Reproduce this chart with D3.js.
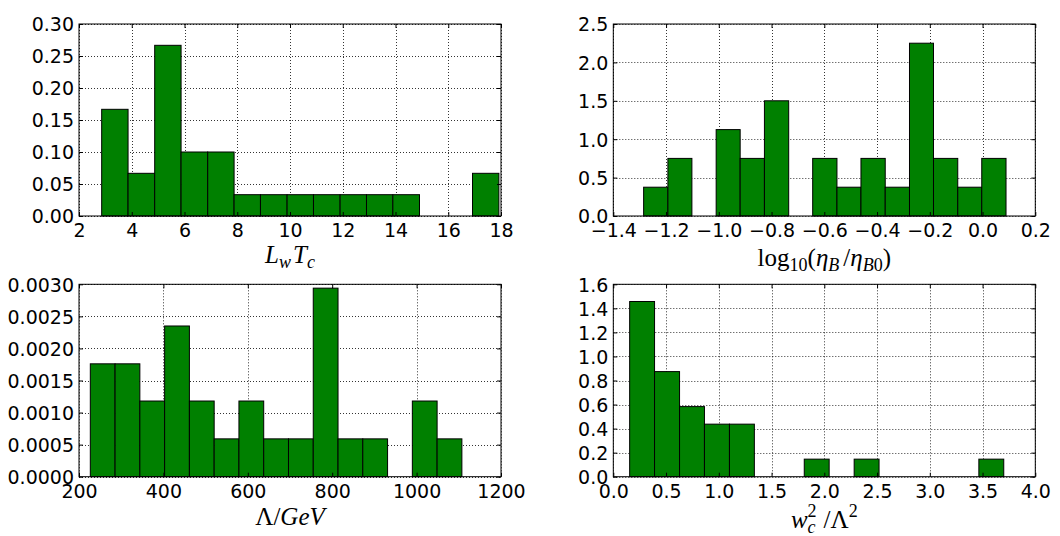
<!DOCTYPE html>
<html>
<head>
<meta charset="utf-8">
<script src="https://cdn.jsdelivr.net/npm/d3@7"></script>
<style>
	body { margin: 0; background: #fff; }
	svg { display: block; }
	.tick text { font-family: "DejaVu Sans", sans-serif; font-size: 19px; fill: #000; }
	.lbl { font-family: "Liberation Serif", "DejaVu Serif", serif; font-size: 25px; fill: #000; }
</style>
</head>
<body>
<svg id="fig" width="1060" height="536"></svg>
<script>
// ---- data ----
var lwtcEdges = [2.86, 3.86, 4.87, 5.87, 6.88, 7.88, 8.88, 9.89, 10.89, 11.90, 12.90, 13.90, 14.91, 15.91, 16.92, 17.92];
var lwtcVals  = [0.1667, 0.0667, 0.2667, 0.1, 0.1, 0.0333, 0.0333, 0.0333, 0.0333, 0.0333, 0.0333, 0.0333, 0, 0, 0.0667];

var etaEdges = [-1.285, -1.193, -1.102, -1.010, -0.919, -0.827, -0.735, -0.644, -0.552, -0.461, -0.369, -0.277, -0.186, -0.094, -0.003, 0.089];
var etaVals  = [0.375, 0.75, 0, 1.125, 0.75, 1.5, 0, 0.75, 0.375, 0.75, 0.375, 2.25, 0.75, 0.375, 0.75];

var lamEdges = [226.8, 285.5, 344.2, 402.9, 461.6, 520.3, 579.0, 637.7, 696.4, 755.1, 813.8, 872.5, 931.2, 989.9, 1048.6, 1107.3];
var lamVals  = [0.00176, 0.00176, 0.00118, 0.00235, 0.00118, 0.00059, 0.00118, 0.00059, 0.00059, 0.00294, 0.00059, 0.00059, 0, 0.00118, 0.00059];

var wcEdges = [0.155, 0.391, 0.628, 0.864, 1.101, 1.337, 1.573, 1.810, 2.046, 2.283, 2.519, 2.755, 2.992, 3.228, 3.465, 3.701];
var wcVals  = [1.457, 0.874, 0.583, 0.437, 0.437, 0, 0, 0.146, 0, 0.146, 0, 0, 0, 0, 0.146];

var lwtcXTicks = [2, 4, 6, 8, 10, 12, 14, 16, 18];
var lwtcYTicks = [0, 0.05, 0.10, 0.15, 0.20, 0.25, 0.30];
var etaXTicks = [-1.4, -1.2, -1.0, -0.8, -0.6, -0.4, -0.2, 0.0, 0.2];
var etaYTicks = [0, 0.5, 1.0, 1.5, 2.0, 2.5];
var lamXTicks = [200, 400, 600, 800, 1000, 1200];
var lamYTicks = [0, 0.0005, 0.0010, 0.0015, 0.0020, 0.0025, 0.0030];
var wcXTicks = [0, 0.5, 1.0, 1.5, 2.0, 2.5, 3.0, 3.5, 4.0];
var wcYTicks = [0, 0.2, 0.4, 0.6, 0.8, 1.0, 1.2, 1.4, 1.6];

var svg = d3.select("#fig");
var minus = function (s) { return s.replace("-", "\u2212"); };

var drawPanel = function (p) {
	var x = d3.scaleLinear().domain(p.xDom).range([p.left, p.right]);
	var y = d3.scaleLinear().domain(p.yDom).range([p.bottom, p.top]);
	var g = svg.append("g");

	// dotted grid
	g.selectAll(".gx").data(p.xTicks).enter().append("line")
		.attr("x1", function (d) { return Math.round(x(d)) + 0.5; })
		.attr("x2", function (d) { return Math.round(x(d)) + 0.5; })
		.attr("y1", p.top).attr("y2", p.bottom)
		.attr("stroke", "#000").attr("stroke-width", 0.8).attr("stroke-dasharray", "1,2");
	g.selectAll(".gy").data(p.yTicks).enter().append("line")
		.attr("y1", function (d) { return Math.round(y(d)) + 0.5; })
		.attr("y2", function (d) { return Math.round(y(d)) + 0.5; })
		.attr("x1", p.left).attr("x2", p.right)
		.attr("stroke", "#000").attr("stroke-width", 0.8).attr("stroke-dasharray", "1,2");

	// histogram bars, empty bins skipped
	p.vals.forEach(function (v, i) {
		if (v <= 0) return;
		g.append("rect")
			.attr("x", x(p.edges[i]))
			.attr("y", y(v))
			.attr("width", x(p.edges[i + 1]) - x(p.edges[i]))
			.attr("height", y(0) - y(v))
			.attr("fill", "#008000").attr("stroke", "#000").attr("stroke-width", 1);
	});

	// axes, ticks pointing inward on all four sides
	g.append("g").attr("transform", "translate(0," + p.bottom + ")")
		.call(d3.axisBottom(x).tickValues(p.xTicks).tickSizeInner(-4).tickSizeOuter(0).tickPadding(8)
			.tickFormat(function (d) { return minus(p.xFmt(d)); }));
	var ly = g.append("g").attr("transform", "translate(" + p.left + ",0)")
		.call(d3.axisLeft(y).tickValues(p.yTicks).tickSizeInner(-4).tickSizeOuter(0).tickPadding(5)
			.tickFormat(function (d) { return p.yFmt(d); }));
	g.append("g").attr("transform", "translate(0," + p.top + ")")
		.call(d3.axisTop(x).tickValues(p.xTicks).tickSizeInner(-4).tickSizeOuter(0).tickFormat(""));
	g.append("g").attr("transform", "translate(" + p.right + ",0)")
		.call(d3.axisRight(y).tickValues(p.yTicks).tickSizeInner(-4).tickSizeOuter(0).tickFormat(""));
	g.selectAll(".domain").remove();
	g.selectAll(".tick line").attr("stroke", "#000");
	ly.selectAll(".tick text").attr("dy", "0.36em");

	g.append("rect")
		.attr("x", p.left).attr("y", p.top)
		.attr("width", p.right - p.left).attr("height", p.bottom - p.top)
		.attr("fill", "none").attr("stroke", "#000").attr("stroke-width", 1);

	var t = g.append("text").attr("class", "lbl")
		.attr("x", (p.left + p.right) / 2).attr("y", p.labelY)
		.attr("text-anchor", "middle");
	p.label(t);
};

var tsp = function (t, s, opt) {
	opt = opt || {};
	var e = t.append("tspan").text(s).attr("font-style", opt.it ? "italic" : "normal");
	if (opt.sz) e.attr("font-size", opt.sz);
	if (opt.dy) e.attr("dy", opt.dy);
	if (opt.dx) e.attr("dx", opt.dx);
	return e;
};

drawPanel({
	left: 79, right: 501, top: 24, bottom: 216,
	xDom: [2, 18], yDom: [0, 0.30],
	edges: lwtcEdges, vals: lwtcVals, xTicks: lwtcXTicks, yTicks: lwtcYTicks,
	xFmt: d3.format("d"), yFmt: d3.format(".2f"),
	labelY: 263,
	label: function (t) {
		tsp(t, "L", {it: 1});
		tsp(t, "w", {it: 1, sz: 18, dy: 5});
		tsp(t, "T", {it: 1, dy: -5, dx: 2});
		tsp(t, "c", {it: 1, sz: 18, dy: 5});
	}
});

drawPanel({
	left: 613.3, right: 1035.3, top: 24, bottom: 216,
	xDom: [-1.4, 0.2], yDom: [0, 2.5],
	edges: etaEdges, vals: etaVals, xTicks: etaXTicks, yTicks: etaYTicks,
	xFmt: d3.format(".1f"), yFmt: d3.format(".1f"),
	labelY: 266,
	label: function (t) {
		tsp(t, "log");
		tsp(t, "10", {sz: 18, dy: 5});
		tsp(t, "(", {dy: -5});
		tsp(t, "\u03b7", {it: 1});
		tsp(t, "B", {it: 1, sz: 18, dy: 5});
		tsp(t, "/", {dy: -5, dx: 4});
		tsp(t, "\u03b7", {it: 1});
		tsp(t, "B", {it: 1, sz: 18, dy: 5});
		tsp(t, "0", {sz: 18});
		tsp(t, ")", {dy: -5});
	}
});

drawPanel({
	left: 79, right: 501, top: 284.3, bottom: 476.7,
	xDom: [200, 1200], yDom: [0, 0.0030],
	edges: lamEdges, vals: lamVals, xTicks: lamXTicks, yTicks: lamYTicks,
	xFmt: d3.format("d"), yFmt: d3.format(".4f"),
	labelY: 525,
	label: function (t) {
		tsp(t, "\u039b/");
		tsp(t, "GeV", {it: 1});
	}
});

drawPanel({
	left: 613.3, right: 1035.3, top: 284.3, bottom: 476.7,
	xDom: [0, 4], yDom: [0, 1.6],
	edges: wcEdges, vals: wcVals, xTicks: wcXTicks, yTicks: wcYTicks,
	xFmt: d3.format(".1f"), yFmt: d3.format(".1f"),
	labelY: 528,
	label: function (t) {
		tsp(t, "w", {it: 1});
		tsp(t, "2", {sz: 18, dy: -11});
		tsp(t, "c", {it: 1, sz: 18, dy: 16, dx: -9});
		tsp(t, "/\u039b", {dy: -5, dx: 8});
		tsp(t, "2", {sz: 18, dy: -11});
	}
});
</script>
</body>
</html>
